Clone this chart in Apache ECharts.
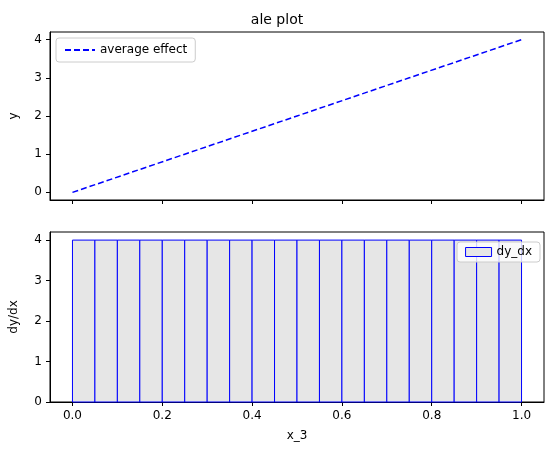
<!DOCTYPE html>
<html><head><meta charset="utf-8">
<script src="https://cdn.jsdelivr.net/npm/echarts@6/dist/echarts.min.js"></script>
<style>body{margin:0}#c{width:554px;height:455px}</style>
</head><body><div id="c"></div>
<script>
// average effect line
var lineX = [0, 0.25, 0.5, 0.75, 1.0];
var lineY = [0, 1, 2, 3, 4];
// dy/dx bins (left edges), width and heights
var binStarts = [0, 0.05, 0.1, 0.15, 0.2, 0.25, 0.3, 0.35, 0.4, 0.45, 0.5, 0.55, 0.6, 0.65, 0.7, 0.75, 0.8, 0.85, 0.9, 0.95];
var binWidth = 0.05;
var binHeights = [4, 4, 4, 4, 4, 4, 4, 4, 4, 4, 4, 4, 4, 4, 4, 4, 4, 4, 4, 4];
var xTicks = [0, 0.2, 0.4, 0.6, 0.8, 1.0];
var yTicksTop = [0, 1, 2, 3, 4];

var font = 'DejaVu Sans';
var axisLine = {show: true, onZero: false, lineStyle: {color: '#000', width: 1}};
function xAxis(i, labels) {
    return {
        type: 'value', gridIndex: i, min: -0.05, max: 1.05,
        axisLine: axisLine, splitLine: {show: false},
        axisTick: {show: true, inside: false, customValues: xTicks, length: 4, lineStyle: {color: '#000'}},
        axisLabel: {show: labels, customValues: xTicks, color: '#000', fontFamily: font, fontSize: 12,
            formatter: function (v) { return v.toFixed(1); }},
        name: labels ? 'x_3' : '', nameLocation: 'middle', nameGap: 28,
        nameTextStyle: {color: '#000', fontFamily: font, fontSize: 12}
    };
}

var chart = echarts.init(document.getElementById('c'));
chart.setOption({
    animation: false,
    backgroundColor: '#fff',
    title: {text: 'ale plot', left: 'center', top: 8,
        textStyle: {fontFamily: font, fontSize: 14, fontWeight: 'normal', color: '#000'}},
    grid: [
        {left: 49, right: 10, top: 32, height: 168, show: true, borderColor: '#000', borderWidth: 1},
        {left: 49, right: 10, top: 232, height: 170, show: true, borderColor: '#000', borderWidth: 1}
    ],
    legend: [
        {data: ['average effect'], left: 56, top: 38, orient: 'vertical',
            itemWidth: 30, itemHeight: 10, padding: [6, 8], itemGap: 10,
            itemStyle: {opacity: 0},
            borderColor: '#ccc', borderWidth: 1, borderRadius: 3,
            textStyle: {fontFamily: font, fontSize: 12, color: '#000'}},
        {data: [{name: 'dy_dx', icon: 'rect'}], right: 14, top: 242, orient: 'vertical',
            itemWidth: 26, itemHeight: 9, padding: [4, 8],
            itemStyle: {color: '#e6e6e6', borderColor: '#0000ff', borderWidth: 1},
            borderColor: '#ccc', borderWidth: 1, borderRadius: 3, backgroundColor: 'rgba(255,255,255,0.8)',
            textStyle: {fontFamily: font, fontSize: 12, color: '#000'}}
    ],
    xAxis: [xAxis(0, false), xAxis(1, true)],
    yAxis: [
        {type: 'value', gridIndex: 0, min: -0.2, max: 4.2, axisLine: axisLine, splitLine: {show: false},
            axisTick: {show: true, inside: false, customValues: yTicksTop, length: 4},
            axisLabel: {customValues: yTicksTop, color: '#000', fontFamily: font, fontSize: 12},
            name: 'y', nameLocation: 'middle', nameGap: 30,
            nameTextStyle: {color: '#000', fontFamily: font, fontSize: 12}},
        {type: 'value', gridIndex: 1, min: 0, max: 4.2, interval: 1, axisLine: axisLine, splitLine: {show: false},
            axisTick: {show: true, inside: false, length: 4},
            axisLabel: {color: '#000', fontFamily: font, fontSize: 12, showMaxLabel: false},
            name: 'dy/dx', nameLocation: 'middle', nameGap: 30,
            nameTextStyle: {color: '#000', fontFamily: font, fontSize: 12}}
    ],
    series: [
        {name: 'average effect', type: 'line', xAxisIndex: 0, yAxisIndex: 0, symbol: 'none',
            color: '#0000ff', lineStyle: {color: '#0000ff', type: [6, 3], width: 1.5},
            data: lineX.map(function (x, i) { return [x, lineY[i]]; })},
        {name: 'dy_dx', type: 'custom', xAxisIndex: 1, yAxisIndex: 1,
            itemStyle: {color: '#e6e6e6', borderColor: '#0000ff', borderWidth: 1},
            data: binStarts.map(function (x, i) { return [x, binHeights[i]]; }),
            renderItem: function (params, api) {
                var p0 = api.coord([api.value(0), 0]);
                var p1 = api.coord([api.value(0) + binWidth, api.value(1)]);
                return {type: 'rect', shape: {x: p0[0], y: p1[1], width: p1[0] - p0[0], height: p0[1] - p1[1]},
                    style: {fill: '#e6e6e6', stroke: '#0000ff', lineWidth: 1}};
            }}
    ]
});
</script></body></html>
